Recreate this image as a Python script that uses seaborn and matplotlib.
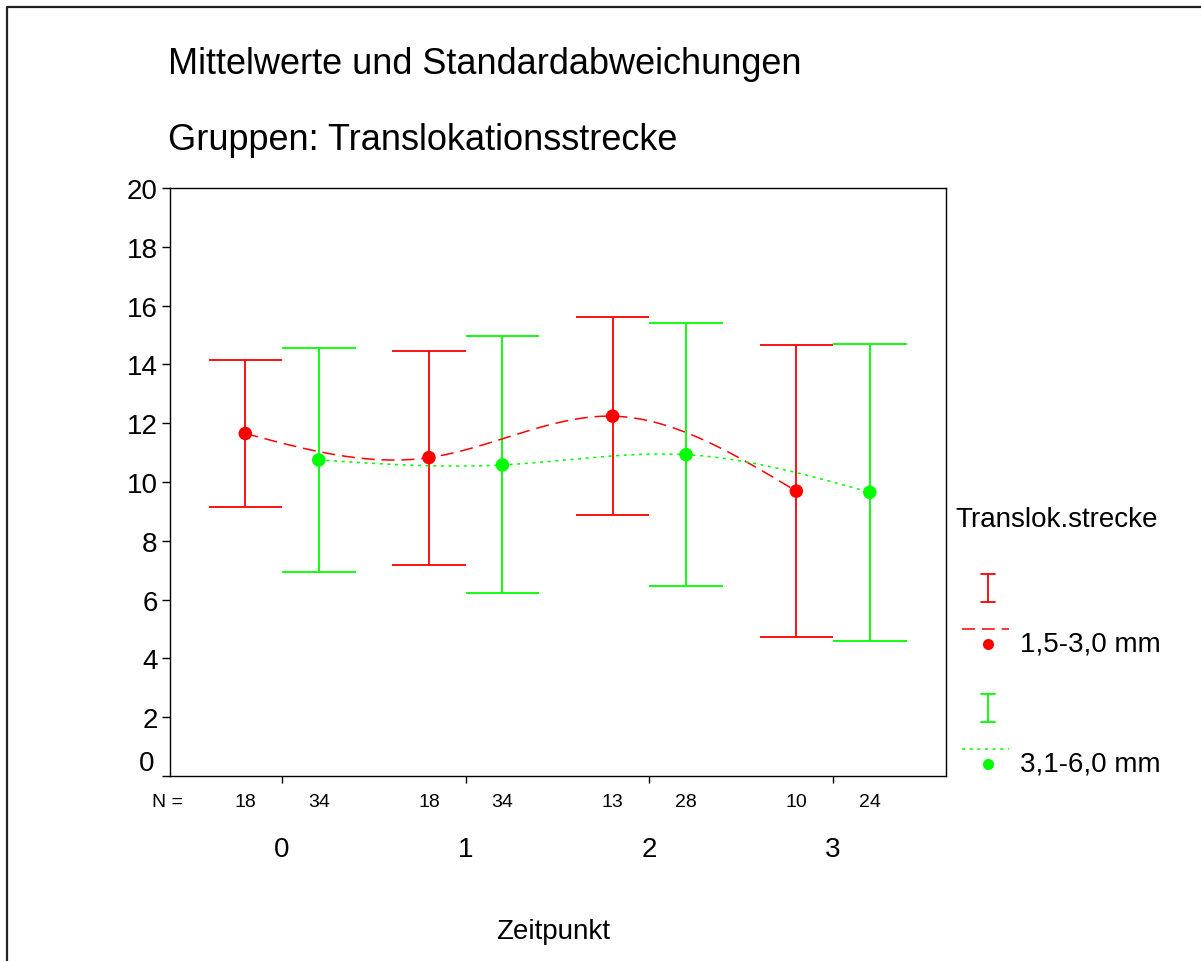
import numpy as np
import matplotlib
matplotlib.use("Agg")
import matplotlib.pyplot as plt
import seaborn as sns
from matplotlib.lines import Line2D
from matplotlib import transforms

# ---------------- data ----------------
categories = ["0", "1", "2", "3"]
groups = ["1,5-3,0 mm", "3,1-6,0 mm"]
mean_a = [11.65, 10.83, 12.24, 9.69]   # 1,5-3,0 mm
sd_a = [2.50, 3.64, 3.36, 4.97]
n_a = [18, 18, 13, 10]
mean_b = [10.75, 10.58, 10.93, 9.65]   # 3,1-6,0 mm
sd_b = [3.82, 4.37, 4.48, 5.05]
n_b = [34, 34, 28, 24]
y_ticks = [0, 2, 4, 6, 8, 10, 12, 14, 16, 18, 20]

title1 = "Mittelwerte und Standardabweichungen"
title2 = "Gruppen: Translokationsstrecke"
x_title = "Zeitpunkt"
legend_title = "Translok.strecke"

# ---------------- style ----------------
sns.set_style("white")
plt.rcParams["font.family"] = ["Liberation Sans", "DejaVu Sans"]
plt.rcParams["text.color"] = "black"
plt.rcParams["axes.labelcolor"] = "black"
plt.rcParams["xtick.color"] = "black"
plt.rcParams["ytick.color"] = "black"
RED = "#ff0000"
GREEN = "#00ff00"
W, H = 1201, 962
fig = plt.figure(figsize=(W / 100, H / 100), dpi=100)

def fx(px):
    return px / W

def fy(py):
    return 1 - py / H

ax_l, ax_r, ax_t, ax_b = 170, 946, 189, 777
ax = fig.add_axes([fx(ax_l), fy(ax_b), fx(ax_r - ax_l), (ax_b - ax_t) / H])

OFF = 0.2
CAP = 0.2


def natural_spline(x, y, num=60):
    x = np.asarray(x, float)
    y = np.asarray(y, float)
    n = len(x)
    h = np.diff(x)
    A = np.zeros((n, n))
    b = np.zeros(n)
    A[0, 0] = 1
    A[-1, -1] = 1
    for i in range(1, n - 1):
        A[i, i - 1] = h[i - 1]
        A[i, i] = 2 * (h[i - 1] + h[i])
        A[i, i + 1] = h[i]
        b[i] = 6 * ((y[i + 1] - y[i]) / h[i] - (y[i] - y[i - 1]) / h[i - 1])
    M = np.linalg.solve(A, b)
    xs, ys = [], []
    for i in range(n - 1):
        t = np.linspace(x[i], x[i + 1], num, endpoint=(i == n - 2))
        a = x[i + 1] - t
        c = t - x[i]
        s = (M[i] * a ** 3 + M[i + 1] * c ** 3) / (6 * h[i]) \
            + (y[i] / h[i] - M[i] * h[i] / 6) * a \
            + (y[i + 1] / h[i] - M[i + 1] * h[i] / 6) * c
        xs.append(t)
        ys.append(s)
    return np.concatenate(xs), np.concatenate(ys)


series = [
    (mean_a, sd_a, n_a, -OFF, RED, (0, (8.5, 4.5))),
    (mean_b, sd_b, n_b, +OFF, GREEN, (0, (2, 3))),
]

NARROW = ["Liberation Sans Narrow", "Liberation Sans", "DejaVu Sans"]
pos = np.arange(len(categories))
tr_n = transforms.blended_transform_factory(ax.transData, fig.transFigure)
for means, sds, ns, off, col, ls in series:
    xp = pos + off
    m = np.asarray(means)
    s = np.asarray(sds)
    # error bars
    ax.vlines(xp, m - s, m + s, color=col, lw=1.3, zorder=2)
    ax.hlines(m + s, xp - CAP, xp + CAP, color=col, lw=1.3, zorder=2)
    ax.hlines(m - s, xp - CAP, xp + CAP, color=col, lw=1.3, zorder=2)
    # smooth line through means
    sx, sy = natural_spline(xp, m)
    sns.lineplot(x=sx, y=sy, ax=ax, color=col, lw=1.1, linestyle=ls,
                 sort=False, estimator=None, zorder=3)
    # markers
    sns.scatterplot(x=xp, y=m, ax=ax, color=col, s=95, edgecolor="none",
                    zorder=4)
    # N labels
    for xi, nv in zip(xp, ns):
        ax.text(xi, fy(803), str(nv), transform=tr_n, ha="center", va="center",
                fontsize=14, family=NARROW)

ax.set_xlim(-0.61, 3.615)
ax.set_ylim(0, 20)
ax.set_yticks(y_ticks)
ax.set_yticklabels([("" if v == 0 else str(v)) for v in y_ticks], fontsize=20)
# zero label sits just above the axis line
ax.text(-0.01, 0, "0", transform=ax.get_yaxis_transform()
        + transforms.ScaledTranslation(-8 / 100, 13 / 100, fig.dpi_scale_trans),
        ha="right", va="center", fontsize=20)
ax.set_xticks(pos)
ax.set_xticklabels(categories, fontsize=20)
ax.tick_params(axis="y", direction="out", length=6, width=1, color="black",
               left=True, pad=3)
ax.tick_params(axis="x", direction="out", length=5, width=1, color="black",
               bottom=True, pad=38)
for sp in ax.spines.values():
    sp.set_visible(True)
    sp.set_color("black")
    sp.set_linewidth(1.0)
ax.set_xlabel("")
ax.set_ylabel("")
ax.grid(False)

fig.text(fx(168), fy(803), "N =", ha="center", va="center", fontsize=14,
         family=NARROW)
fig.text(fx(553), fy(932), x_title, ha="center", va="center", fontsize=20)
fig.text(fx(168), fy(65), title1, ha="left", va="center", fontsize=26)
fig.text(fx(168), fy(140), title2, ha="left", va="center", fontsize=26)

# ---------------- overlay (legend + frame) ----------------
ov = fig.add_axes([0, 0, 1, 1], zorder=5)
ov.set_xlim(0, W)
ov.set_ylim(H, 0)
ov.axis("off")
ov.patch.set_alpha(0)
# outer frame (left and top visible)
ov.add_line(Line2D([7, 7, W + 5], [H + 5, 8, 8], color="#222222", lw=1.6))

ov.text(955, 520, legend_title, ha="left", va="center", fontsize=20)
leg_rows = [(589, 630, 645, 645), (709, 750, 765, 765)]
for (means, sds, ns, off, col, ls), name, (ybar, yline, ydot, ytxt) in zip(series, groups, leg_rows):
    ov.add_line(Line2D([988, 988], [ybar - 14, ybar + 14], color=col, lw=1.3))
    ov.add_line(Line2D([981, 995], [ybar - 14, ybar - 14], color=col, lw=1.3))
    ov.add_line(Line2D([981, 995], [ybar + 14, ybar + 14], color=col, lw=1.3))
    ov.add_line(Line2D([962, 1009], [yline, yline], color=col, lw=1.1, linestyle=ls))
    ov.plot([988], [ydot], "o", color=col, ms=8, mec="none")
    ov.text(1020, ytxt, name, ha="left", va="center", fontsize=20)

fig.savefig("out.png", dpi=100, facecolor="white")
